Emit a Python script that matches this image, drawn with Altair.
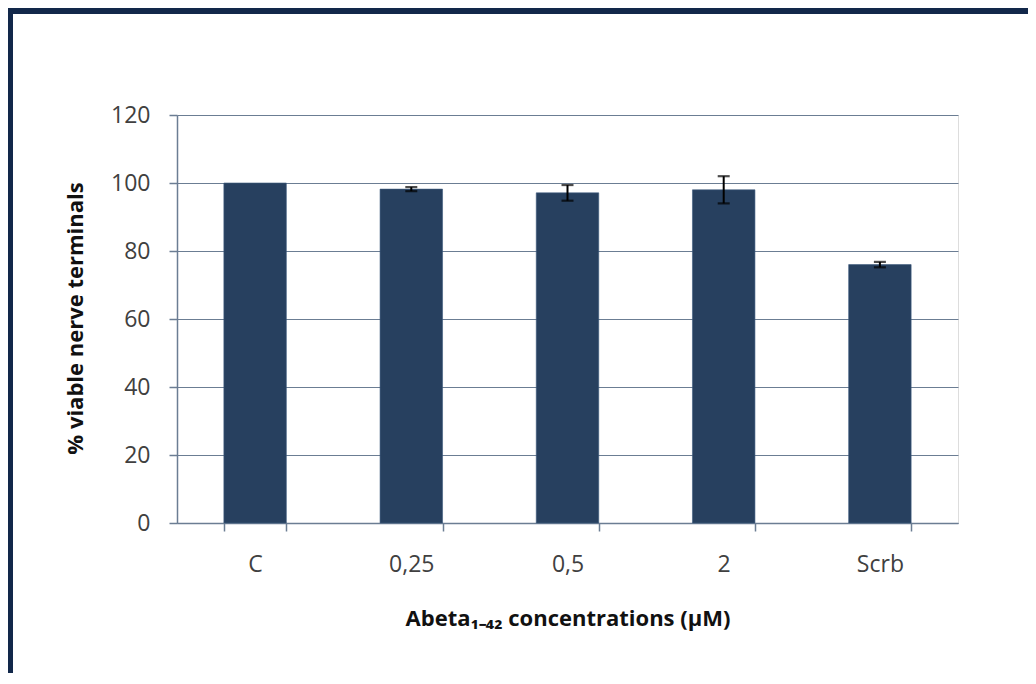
import altair as alt
import pandas as pd

categories = ["C", "0,25", "0,5", "2", "Scrb"]
values = [100.0, 98.2, 97.1, 98.0, 76.0]
errors = [0.0, 0.6, 2.3, 4.0, 0.8]
y_ticks = [0, 20, 40, 60, 80, 100, 120]

df = pd.DataFrame({"cat": categories, "val": values, "err": errors})
df["lo"] = df["val"] - df["err"]
df["hi"] = df["val"] + df["err"]

W, H = 781, 408
PAD_L, PAD_T, PAD_R, PAD_B = 169, 107, 70, 150
FONT = "Open Sans"
BAR = "#27405f"
FRAME = "#12284a"
AXIS_C = "#6b7d93"

x_enc = alt.X(
    "cat:N", sort=categories, title="Abeta\u2081\u208b\u2084\u2082 concentrations (\u00b5M)",
    scale=alt.Scale(paddingInner=0.6, paddingOuter=0.3),
    axis=alt.Axis(
        labelAngle=0, tickBand="extent", tickSize=8, labelPadding=22,
        labelFontSize=23, labelColor="#404040", labelFont=FONT,
        domainColor=AXIS_C, tickColor=AXIS_C, domainWidth=1.5, tickWidth=1.5,
        titleFont=FONT, titleFontSize=22, titleFontWeight="bold", titleColor="#111111",
        titleX=W / 2, titleY=95, titleBaseline="middle", titleAlign="center",
    ),
)
y_enc = alt.Y(
    "val:Q", title="% viable nerve terminals",
    scale=alt.Scale(domain=[0, 120], nice=False),
    axis=alt.Axis(
        values=y_ticks, tickSize=8, labelPadding=19, labelFontSize=23,
        labelColor="#404040", labelFont=FONT, grid=True, gridColor=AXIS_C,
        gridWidth=1.2, domainColor=AXIS_C, tickColor=AXIS_C, domainWidth=1.5, tickWidth=1.5,
        titleFont=FONT, titleFontSize=22, titleFontWeight="bold", titleColor="#111111",
        titleAngle=-90, titleX=-102, titleY=H / 2 - 1, titleAlign="center", titleBaseline="middle",
    ),
)

bars = alt.Chart(df).mark_bar(color=BAR, stroke="#3d5a7e", strokeWidth=0.6).encode(x=x_enc, y=y_enc)

err = df[df["err"] > 0]
eb = alt.Chart(err).mark_rule(color="#000000", strokeWidth=2).encode(
    x=alt.X("cat:N", sort=categories), y="lo:Q", y2="hi:Q")
cap_lo = alt.Chart(err).mark_tick(color="#000000", thickness=2.2, size=12, orient="horizontal").encode(
    x=alt.X("cat:N", sort=categories), y="lo:Q")
cap_hi = alt.Chart(err).mark_tick(color="#000000", thickness=2.2, size=12, orient="horizontal").encode(
    x=alt.X("cat:N", sort=categories), y="hi:Q")

one = pd.DataFrame({"a": [0]})
frame_top = alt.Chart(one).mark_rule(color=FRAME, strokeWidth=6).encode(
    x=alt.value(-PAD_L), x2=alt.value(W + PAD_R), y=alt.value(-104))
frame_left = alt.Chart(one).mark_rule(color=FRAME, strokeWidth=5).encode(
    x=alt.value(-166.5), y=alt.value(-107), y2=alt.value(H + PAD_B))

chart = alt.layer(bars, eb, cap_lo, cap_hi, frame_top, frame_left).properties(
    width=W, height=H,
    autosize=alt.AutoSizeParams(type="none"),
    padding={"left": PAD_L, "top": PAD_T, "right": PAD_R, "bottom": PAD_B},
).configure_view(stroke=None).configure(background="white")

chart.save("out.html", embed_options={"renderer": "svg", "actions": False})
